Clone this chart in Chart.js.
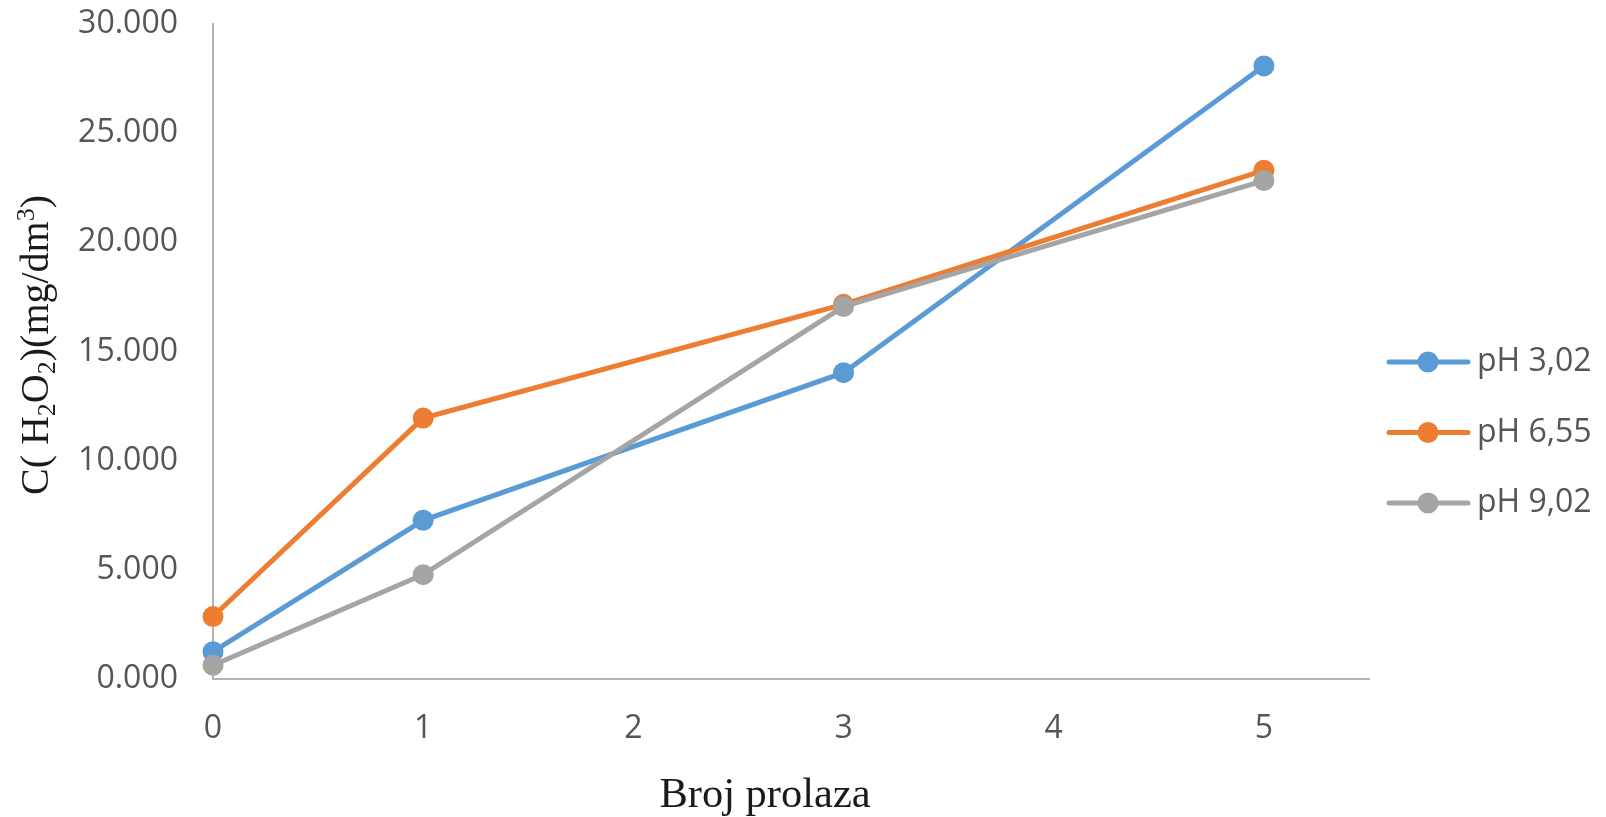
<!DOCTYPE html>
<html>
<head>
<meta charset="utf-8">
<script src="https://cdn.jsdelivr.net/npm/chart.js@4/dist/chart.umd.min.js"></script>
<style>
  html, body { margin: 0; padding: 0; background: #fff; }
  canvas { display: block; }
</style>
</head>
<body>
<canvas id="chart" width="1606" height="817"></canvas>
<script>
// values
const passes = [0, 1, 3, 5];
const ph302 = [1.25, 7.27, 14.03, 28.08];
const ph655 = [2.86, 11.95, 17.16, 23.30];
const ph902 = [0.63, 4.78, 17.06, 22.83];
const seriesNames = ['pH 3,02', 'pH 6,55', 'pH 9,02'];
const seriesColors = ['#5B9BD5', '#ED7D31', '#A5A5A5'];
const xTicks = [0, 1, 2, 3, 4, 5];
const yTicks = [0, 5, 10, 15, 20, 25, 30];

const tickFont = { family: '"Open Sans", "Noto Sans", sans-serif', size: 32 };
const tickColor = '#555555';
const axisColor = '#B4B4B4';
const serif = '"Liberation Serif", "DejaVu Serif", serif';

const toPoints = (ys) => passes.map((x, i) => ({ x, y: ys[i] }));

const series = [ph302, ph655, ph902].map((ys, i) => ({
  label: seriesNames[i],
  data: toPoints(ys),
  borderColor: seriesColors[i],
  backgroundColor: seriesColors[i],
  pointBackgroundColor: seriesColors[i],
  pointBorderColor: seriesColors[i],
  borderWidth: 5,
  pointRadius: 10.5,
  pointBorderWidth: 0,
  pointHoverRadius: 10.5,
  tension: 0,
  clip: false,
  order: 2 - i
}));

// draws text pieces with sub/superscripts along the current baseline
function drawRich(ctx, parts, size) {
  let x = 0;
  parts.forEach(([txt, kind]) => {
    const s = kind ? size * 0.65 : size;
    const dy = kind === 'sub' ? size * 0.18 : kind === 'sup' ? -size * 0.36 : 0;
    ctx.font = `${s}px ${serif}`;
    ctx.fillText(txt, x, dy);
    x += ctx.measureText(txt).width;
  });
}
function richWidth(ctx, parts, size) {
  return parts.reduce((w, [txt, kind]) => {
    ctx.font = `${kind ? size * 0.65 : size}px ${serif}`;
    return w + ctx.measureText(txt).width;
  }, 0);
}

const yTitle = [['C( H'], ['2', 'sub'], ['O'], ['2', 'sub'], [')(mg/dm'], ['3', 'sup'], [')']];
const xTitle = [['Broj prolaza']];

const excelDecor = {
  id: 'excelDecor',
  afterDraw(chart) {
    const { ctx } = chart;
    ctx.save();
    ctx.fillStyle = '#1a1a1a';
    ctx.textBaseline = 'alphabetic';
    ctx.textAlign = 'left';

    // y axis title, rotated
    const yw = richWidth(ctx, yTitle, 40);
    ctx.save();
    ctx.translate(48, 345 + yw / 2);
    ctx.rotate(-Math.PI / 2);
    drawRich(ctx, yTitle, 40);
    ctx.restore();

    // x axis title
    const xw = richWidth(ctx, xTitle, 42.5);
    ctx.save();
    ctx.translate(765 - xw / 2, 807);
    drawRich(ctx, xTitle, 42.5);
    ctx.restore();

    // legend on the right
    chart.data.datasets.forEach((ds, i) => {
      const cy = 362 + i * 70.5;
      ctx.strokeStyle = ds.borderColor;
      ctx.lineWidth = 5;
      ctx.lineCap = 'round';
      ctx.beginPath();
      ctx.moveTo(1389, cy);
      ctx.lineTo(1468, cy);
      ctx.stroke();
      ctx.fillStyle = ds.pointBackgroundColor;
      ctx.beginPath();
      ctx.arc(1428, cy, 10.5, 0, Math.PI * 2);
      ctx.fill();
      ctx.fillStyle = tickColor;
      ctx.font = `${tickFont.size}px ${tickFont.family}`;
      ctx.textBaseline = 'middle';
      ctx.fillText(ds.label, 1477, cy);
      ctx.textBaseline = 'alphabetic';
    });
    ctx.restore();
  }
};

new Chart(document.getElementById('chart'), {
  type: 'line',
  data: { datasets: series },
  options: {
    responsive: false,
    animation: false,
    events: [],
    layout: { padding: { left: 0, top: 24, right: 1606 - 1369, bottom: 0 } },
    plugins: {
      legend: { display: false },
      tooltip: { enabled: false },
      title: { display: false }
    },
    scales: {
      x: {
        type: 'linear',
        min: 0,
        max: 5.5,
        afterBuildTicks: (scale) => { scale.ticks = xTicks.map(v => ({ value: v })); },
        afterFit: (scale) => {
          scale.height = 817 - 679;
          scale.paddingLeft = 0;
          scale.paddingRight = 0;
        },
        grid: { display: false, drawTicks: false },
        border: { display: true, color: axisColor, width: 2 },
        ticks: { font: tickFont, color: tickColor, padding: 31, maxRotation: 0, autoSkip: false }
      },
      y: {
        min: 0,
        max: 30,
        afterBuildTicks: (scale) => { scale.ticks = yTicks.map(v => ({ value: v })); },
        afterFit: (scale) => {
          scale.width = 213;
          scale.paddingTop = 0;
          scale.paddingBottom = 0;
        },
        grid: { display: false, drawTicks: false },
        border: { display: true, color: axisColor, width: 2 },
        ticks: {
          font: tickFont,
          color: tickColor,
          padding: 35,
          callback: (v) => Number(v).toFixed(3)
        }
      }
    }
  },
  plugins: [excelDecor]
});
</script>
</body>
</html>
